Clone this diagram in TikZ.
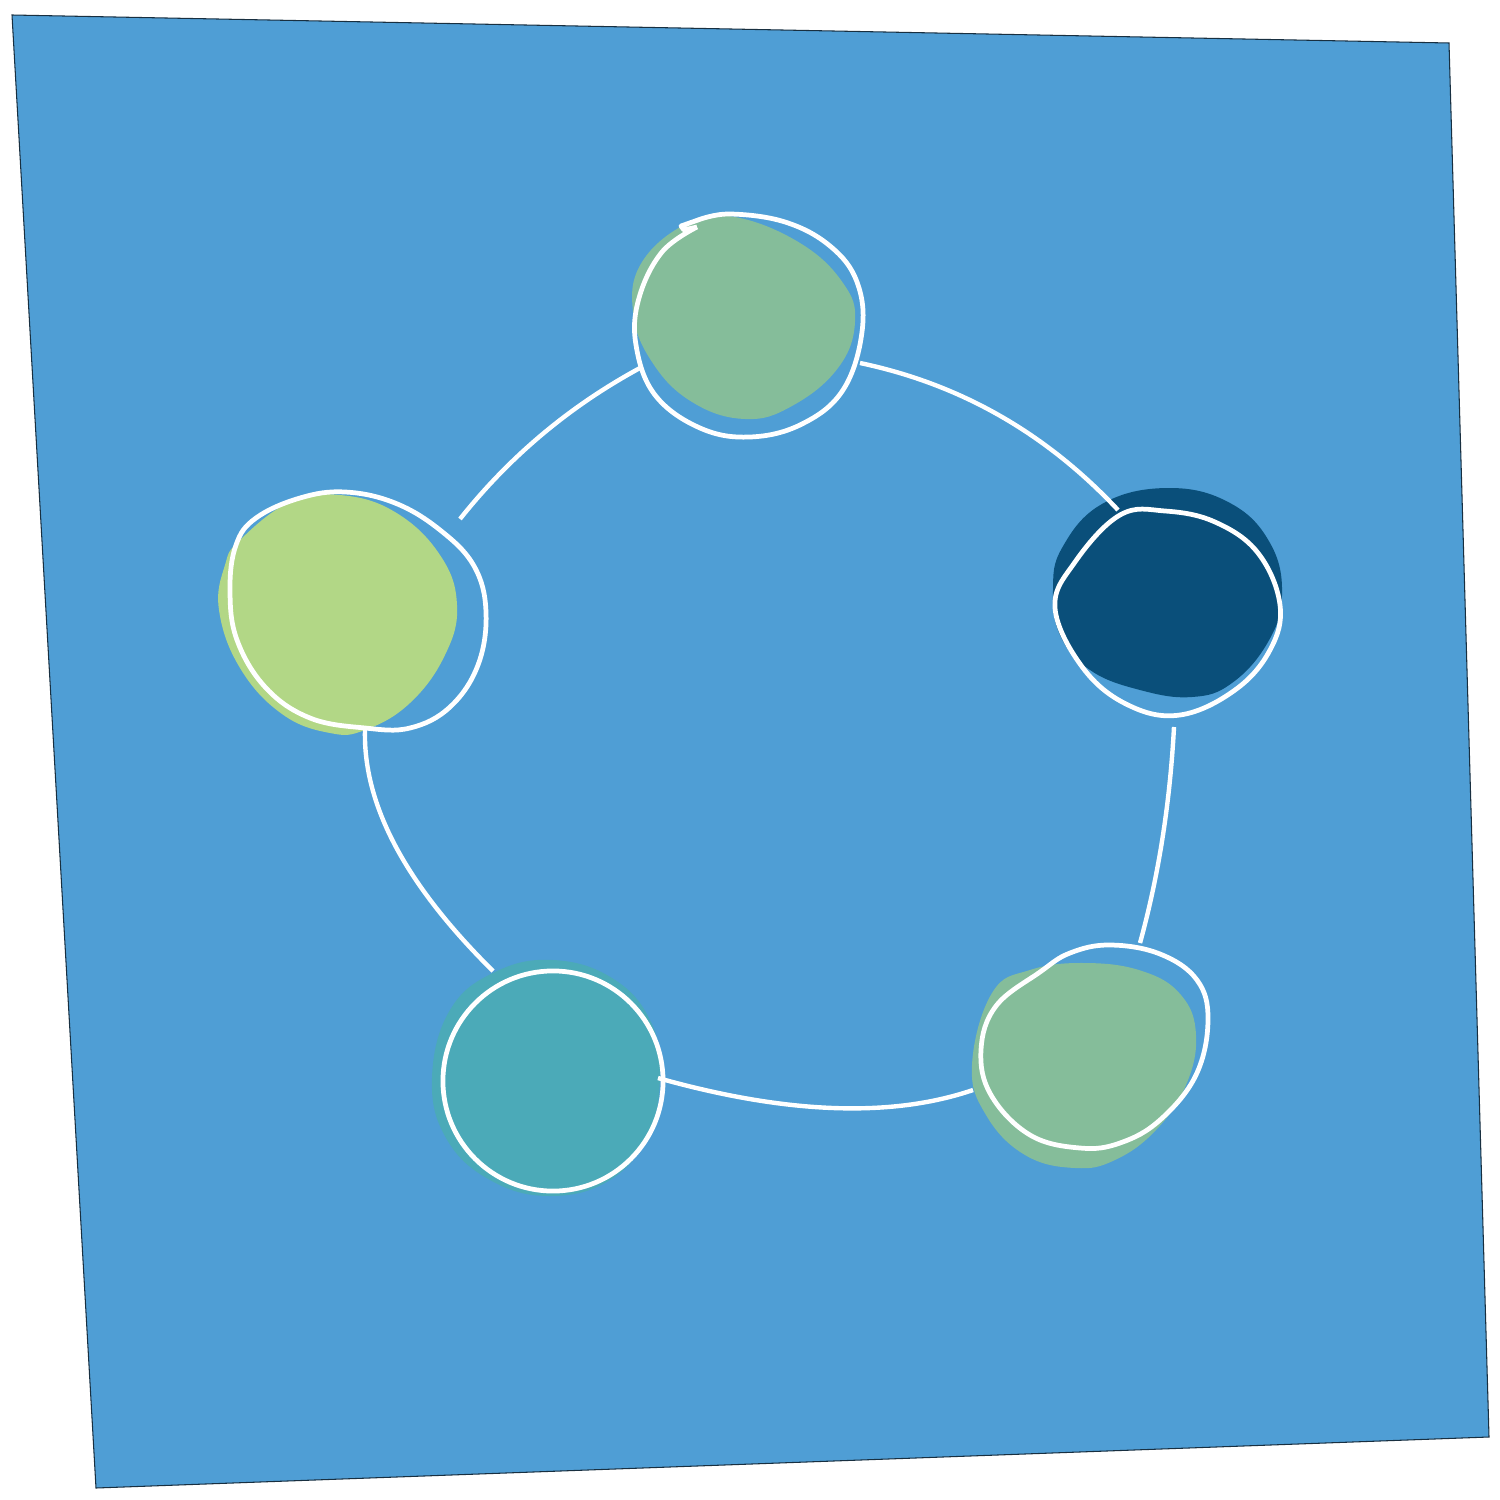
\documentclass[tikz,border=0pt]{standalone}
\definecolor{bgblue}{HTML}{4F9ED5}
\definecolor{sage}{HTML}{85BD9A}
\definecolor{lime}{HTML}{B2D786}
\definecolor{navy}{HTML}{0A4F7A}
\definecolor{teal2}{HTML}{4BAAB8}
\tikzset{
  blobfill/.style={fill=#1, draw=none},
  ring/.style={draw=white, line width=1.35pt, line join=round},
  link/.style={draw=white, line width=1.25pt},
}
\begin{document}
\begin{tikzpicture}[x=0.01cm,y=-0.01cm]
\useasboundingbox (0,0) rectangle (1500,1500);
% background sheet
\path[fill=bgblue, draw=black!70!bgblue, line width=0.3pt] (12,15) -- (1449,43) -- (1489,1437) -- (96,1488) -- cycle;

% blob fills
\path[blobfill=sage] plot[smooth cycle, tension=0.7] coordinates {(642,262) (688,223) (735,217) (800,243) (843,283) (855,322) (838,368) (792,406) (745,419) (692,402) (652,362) (633,312)};
\path[blobfill=lime] plot[smooth cycle, tension=0.7] coordinates {(240,540) (290,502) (340,495) (395,512) (440,555) (457,605) (445,655) (410,703) (365,730) (330,733) (282,714) (240,668) (219,610) (225,565)};
\path[blobfill=navy] plot[smooth cycle, tension=0.7] coordinates {(1062,548) (1102,504) (1168,488) (1230,503) (1270,543) (1282,595) (1268,642) (1232,683) (1192,697) (1140,690) (1090,670) (1060,635) (1053,590)};
\path[blobfill=sage] plot[smooth cycle, tension=0.7] coordinates {(992,993) (1030,970) (1085,963) (1142,971) (1181,995) (1196,1035) (1186,1085) (1156,1130) (1115,1160) (1075,1168) (1025,1155) (986,1115) (972,1065)};
\path[blobfill=teal2] plot[smooth cycle, tension=0.7] coordinates {(450,1010) (495,972) (553,960) (612,978) (650,1020) (660,1075) (648,1135) (610,1180) (550,1196) (490,1180) (446,1138) (432,1078)};

% node outlines (named)
\node[coordinate] (top) at (748,326) {};
\draw[ring] plot[smooth, tension=0.65] coordinates {(697,227) (662,252) (639,298) (636,345) (655,395) (700,428) (750,437) (802,424) (843,390) (862,332) (857,282) (830,246) (785,222) (730,214) (698,220)} -- (681,226) -- (684,230) -- (697,227);
\node[coordinate] (left) at (357,612) {};
\draw[ring] plot[smooth cycle, tension=0.65] coordinates {(365,728) (310,718) (266,688) (237,640) (230,590) (236,545) (256,518) (300,498) (345,492) (395,503) (440,530) (474,566) (486,612) (478,665) (450,707) (410,728)};
\node[coordinate] (right) at (1167,612) {};
\draw[ring] plot[smooth cycle, tension=0.65] coordinates {(1120,515) (1165,511) (1215,522) (1258,553) (1280,605) (1270,650) (1235,690) (1180,715) (1128,705) (1083,668) (1055,608) (1075,562)};
\node[coordinate] (br) at (1095,1045) {};
\draw[ring] plot[smooth cycle, tension=0.65] coordinates {(1040,972) (1070,953) (1110,945) (1160,954) (1197,980) (1208,1020) (1196,1075) (1160,1120) (1120,1143) (1080,1148) (1030,1135) (991,1095) (981,1050) (996,1006)};
\node[draw=white, line width=1.35pt, circle, minimum size=2.2cm, inner sep=0pt] (bl) at (553,1081) {};

% connector end points
\coordinate (a1) at (640,368);
\coordinate (a2) at (460,519);
\coordinate (b1) at (860,363);
\coordinate (b2) at (1118,510);
\coordinate (c1) at (1174,727);
\coordinate (c2) at (1140,943);
\coordinate (d1) at (973,1090);
\coordinate (d2) at (658,1078);
\coordinate (e1) at (365,730);
\coordinate (e2) at (493,971);

% connectors
\draw[link] (a1) .. controls (570,406) and (510,456) .. (a2);
\draw[link] (b1) .. controls (960,384) and (1046,433) .. (b2);
\draw[link] (c1) .. controls (1170,802) and (1159,874) .. (c2);
\draw[link] (d1) .. controls (891,1118) and (786,1114) .. (d2);
\draw[link] (e1) .. controls (363,805) and (406,885) .. (e2);
\end{tikzpicture}
\end{document}
